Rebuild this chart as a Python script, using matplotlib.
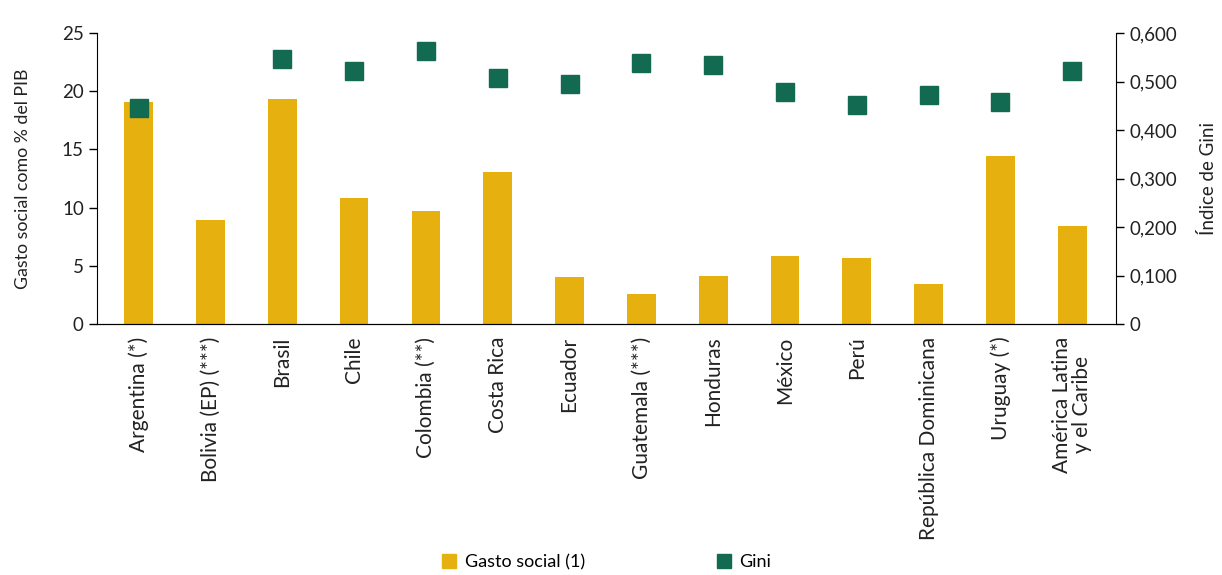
import matplotlib
matplotlib.use("Agg")
import matplotlib.pyplot as plt
from matplotlib.patches import Patch
import numpy as np

plt.rcParams['font.family'] = ['Lato', 'DejaVu Sans']

paises = ["Argentina (*)", "Bolivia (EP) (***)", "Brasil", "Chile", "Colombia (**)",
          "Costa Rica", "Ecuador", "Guatemala (***)", "Honduras", "México", "Perú",
          "República Dominicana", "Uruguay (*)", "América Latina\ny el Caribe"]
gasto = [19.1, 8.9, 19.3, 10.8, 9.7, 13.1, 4.0, 2.6, 4.1, 5.8, 5.7, 3.4, 14.4, 8.4]
gini = [0.446, np.nan, 0.546, 0.521, 0.562, 0.508, 0.494, 0.539, 0.535, 0.479,
        0.452, 0.473, 0.457, 0.521]

oro = "#E6B00F"
verde = "#126A50"
texto = "#222222"

fig = plt.figure(figsize=(12.22, 5.75), dpi=100)
ax = fig.add_axes([0.0794, 0.4365, 0.8339, 0.5061])
x = np.arange(len(paises))
ax.bar(x, gasto, width=0.4, color=oro, zorder=2)
ax.set_ylim(0, 25)
ax.set_xlim(-0.58, 13.61)
ax.set_yticks([0, 5, 10, 15, 20, 25])
ax.set_ylabel("Gasto social como % del PIB", fontsize=12.8, color=texto, labelpad=22)
ax.set_xticks(x)
ax.set_xticklabels(paises, rotation=90, fontsize=15, color=texto, ha="center", va="top",
                   linespacing=1.0)
ax.tick_params(axis="x", length=0, pad=9)
ax.tick_params(axis="y", labelsize=13.5, labelcolor=texto, length=6, width=1)
ax.spines["top"].set_visible(False)
ax.spines["right"].set_visible(False)

ax2 = ax.twinx()
ax2.plot(x, gini, linestyle="none", marker="s", markersize=13, color=verde, zorder=3)
ax2.set_ylim(0, 0.6)
ax2.set_yticks([0, 0.1, 0.2, 0.3, 0.4, 0.5, 0.6])
ax2.set_yticklabels(["0", "0,100", "0,200", "0,300", "0,400", "0,500", "0,600"])
ax2.tick_params(axis="y", labelsize=13.5, labelcolor=texto, length=6, width=1)
ax2.set_ylabel("Índice de Gini", fontsize=13.5, color=texto, labelpad=16)
ax2.spines["top"].set_visible(False)
ax2.spines["left"].set_visible(False)

handles = [Patch(color=oro, label="Gasto social (1)"), Patch(color=verde, label="Gini")]
fig.legend(handles=handles, loc="center", bbox_to_anchor=(0.4963, 0.022), ncol=2,
           frameon=False, fontsize=13, columnspacing=7.3, handlelength=0.8,
           handleheight=0.8, handletextpad=0.45)

fig.savefig("out.png", dpi=100)
